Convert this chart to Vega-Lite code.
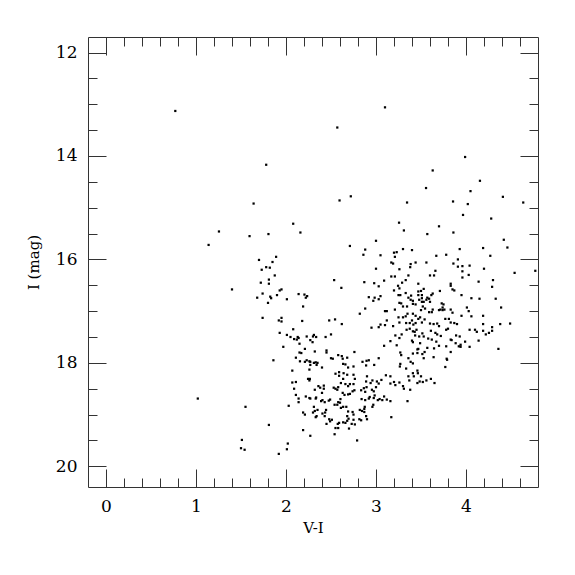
{
"$schema":"https://vega.github.io/schema/vega-lite/v6.json",
"width":450,"height":450,
"autosize":"none",
"padding":{"left":88,"top":37,"right":37,"bottom":88},
"background":"white",
"config":{"view":{"stroke":null},"font":"DejaVu Serif",
 "axis":{"grid":false,"domainColor":"#333","domainWidth":1,"tickColor":"#333","tickWidth":1,"labelColor":"black","titleColor":"black","labelFont":"DejaVu Serif","titleFont":"DejaVu Serif","labelFontSize":17,"titleFontSize":15,"titleFontWeight":"normal","labelFlush":false,"labelOverlap":false,"labelBound":false}},
"data":{"values":[
{"vi":0.77,"mag":13.13},{"vi":3.10,"mag":13.06},{"vi":2.57,"mag":13.45},{"vi":3.99,"mag":14.02},{"vi":3.63,"mag":14.28},{"vi":4.155,"mag":14.48},{"vi":3.556,"mag":14.62},{"vi":4.05,"mag":14.68},{"vi":4.41,"mag":14.79},{"vi":3.345,"mag":14.90},{"vi":3.856,"mag":14.88},{"vi":4.02,"mag":14.93},{"vi":4.636,"mag":14.90},{"vi":3.967,"mag":15.14},{"vi":4.28,"mag":15.21},{"vi":1.78,"mag":14.17},{"vi":1.64,"mag":14.92},{"vi":2.595,"mag":14.86},{"vi":2.72,"mag":14.78},{"vi":1.255,"mag":15.46},{"vi":1.14,"mag":15.72},{"vi":1.02,"mag":18.69},
{"vi":2.08,"mag":15.31},{"vi":1.595,"mag":15.55},{"vi":1.805,"mag":15.51},{"vi":2.16,"mag":15.48},{"vi":1.70,"mag":16.01},{"vi":1.73,"mag":16.20},{"vi":1.78,"mag":16.15},{"vi":1.82,"mag":16.16},{"vi":1.85,"mag":16.05},{"vi":1.89,"mag":15.95},{"vi":1.875,"mag":16.31},{"vi":1.81,"mag":16.39},{"vi":1.81,"mag":16.47},{"vi":1.72,"mag":16.45},{"vi":1.74,"mag":16.66},{"vi":1.68,"mag":16.74},{"vi":1.40,"mag":16.58},{"vi":1.825,"mag":16.72},{"vi":1.835,"mag":16.75},{"vi":1.90,"mag":16.69},{"vi":1.93,"mag":16.60},{"vi":1.95,"mag":16.58},{"vi":2.01,"mag":16.77},{"vi":2.14,"mag":16.67},{"vi":2.205,"mag":16.68},{"vi":2.22,"mag":16.74},{"vi":2.235,"mag":16.71},{"vi":2.535,"mag":16.40},
{"vi":2.71,"mag":15.74},{"vi":2.88,"mag":15.81},{"vi":2.86,"mag":15.91},{"vi":3.00,"mag":15.64},{"vi":3.00,"mag":16.18},{"vi":2.615,"mag":16.55},{"vi":2.87,"mag":16.44},{"vi":2.98,"mag":16.46},{"vi":3.03,"mag":16.52},{"vi":2.92,"mag":16.73},{"vi":2.97,"mag":16.80},{"vi":2.985,"mag":16.74},{"vi":3.03,"mag":16.77},{"vi":2.88,"mag":16.95},{"vi":2.82,"mag":17.05},{"vi":2.62,"mag":17.25},{"vi":2.95,"mag":17.32},{"vi":3.03,"mag":17.31},
{"vi":3.256,"mag":15.29},{"vi":3.70,"mag":15.36},{"vi":3.31,"mag":15.44},{"vi":3.86,"mag":15.48},{"vi":3.57,"mag":15.51},{"vi":4.42,"mag":15.62},{"vi":4.46,"mag":15.77},{"vi":4.19,"mag":15.78},{"vi":3.93,"mag":15.80},{"vi":3.30,"mag":15.80},{"vi":3.40,"mag":15.82},{"vi":3.23,"mag":15.86},{"vi":3.20,"mag":15.87},{"vi":3.21,"mag":15.95},{"vi":3.05,"mag":15.92},{"vi":3.67,"mag":15.93},{"vi":3.78,"mag":15.91},{"vi":4.27,"mag":15.93},{"vi":3.91,"mag":16.00},{"vi":3.17,"mag":16.06},{"vi":3.19,"mag":16.08},{"vi":3.56,"mag":16.06},{"vi":3.44,"mag":16.06},{"vi":3.385,"mag":16.09},{"vi":3.38,"mag":16.15},{"vi":3.86,"mag":16.08},{"vi":3.96,"mag":16.13},{"vi":3.91,"mag":16.14},{"vi":4.04,"mag":16.12},{"vi":4.20,"mag":16.18},{"vi":3.26,"mag":16.19},{"vi":4.54,"mag":16.26},{"vi":4.77,"mag":16.22},{"vi":3.66,"mag":16.22},{"vi":3.645,"mag":16.31},{"vi":3.60,"mag":16.31},{"vi":3.36,"mag":16.31},{"vi":3.21,"mag":16.33},{"vi":3.17,"mag":16.33},{"vi":3.96,"mag":16.23},{"vi":4.03,"mag":16.30},{"vi":3.96,"mag":16.35},{"vi":4.30,"mag":16.40},{"vi":4.14,"mag":16.43},{"vi":3.09,"mag":16.41},{"vi":3.33,"mag":16.40},{"vi":3.29,"mag":16.45},{"vi":3.47,"mag":16.47},{"vi":3.83,"mag":16.47},{"vi":3.83,"mag":16.51},{"vi":3.85,"mag":16.58},{"vi":3.87,"mag":16.60},{"vi":4.29,"mag":16.53},{"vi":3.245,"mag":16.51},{"vi":3.26,"mag":16.56},{"vi":3.05,"mag":16.71},{"vi":3.20,"mag":16.60},{"vi":3.53,"mag":16.57},{"vi":3.50,"mag":16.61},{"vi":3.47,"mag":16.62},{"vi":3.71,"mag":16.61},{"vi":3.25,"mag":16.69},{"vi":3.27,"mag":16.69},{"vi":3.33,"mag":16.65},{"vi":3.39,"mag":16.70},{"vi":3.51,"mag":16.69},{"vi":3.47,"mag":16.69},{"vi":3.63,"mag":16.66},{"vi":3.615,"mag":16.69},{"vi":3.95,"mag":16.69},{"vi":4.15,"mag":16.76},{"vi":4.06,"mag":16.75},{"vi":4.33,"mag":16.76},{"vi":3.36,"mag":16.74},{"vi":3.385,"mag":16.78},{"vi":3.41,"mag":16.80},{"vi":3.57,"mag":16.74},{"vi":3.59,"mag":16.76},{"vi":3.56,"mag":16.78},{"vi":3.60,"mag":16.82},{"vi":3.48,"mag":16.78},{"vi":3.51,"mag":16.75},{"vi":3.51,"mag":16.82},{"vi":3.53,"mag":16.82},{"vi":3.41,"mag":16.86},{"vi":3.44,"mag":16.87},{"vi":3.26,"mag":16.84},{"vi":3.28,"mag":16.85},{"vi":3.73,"mag":16.85},{"vi":3.75,"mag":16.87},{"vi":3.74,"mag":16.93},{"vi":3.76,"mag":16.97},{"vi":3.74,"mag":16.98},{"vi":3.70,"mag":16.98},{"vi":3.715,"mag":16.97},{"vi":4.01,"mag":16.93},{"vi":4.03,"mag":17.00},{"vi":4.39,"mag":16.93},{"vi":3.10,"mag":17.00},{"vi":3.12,"mag":17.00},{"vi":3.21,"mag":16.97},{"vi":3.345,"mag":16.91},{"vi":3.30,"mag":16.91},{"vi":3.52,"mag":16.91},{"vi":3.545,"mag":16.95},{"vi":3.50,"mag":16.98},{"vi":3.63,"mag":16.97},{"vi":3.62,"mag":17.02},{"vi":3.59,"mag":17.02},{"vi":3.83,"mag":16.97},{"vi":3.85,"mag":17.03},{"vi":3.95,"mag":17.09},{"vi":4.06,"mag":17.10},{"vi":4.19,"mag":17.09},{"vi":3.05,"mag":17.26},{"vi":3.10,"mag":17.27},{"vi":3.12,"mag":17.18},{"vi":3.19,"mag":17.29},{"vi":3.25,"mag":17.12},{"vi":3.26,"mag":17.22},{"vi":3.30,"mag":17.12},{"vi":3.33,"mag":17.10},{"vi":3.35,"mag":17.05},{"vi":3.41,"mag":17.05},{"vi":3.44,"mag":17.09},{"vi":3.47,"mag":17.15},{"vi":3.49,"mag":17.12},{"vi":3.40,"mag":17.18},{"vi":3.44,"mag":17.23},{"vi":3.415,"mag":17.26},{"vi":3.51,"mag":17.22},{"vi":3.54,"mag":17.16},{"vi":3.375,"mag":17.23},{"vi":3.335,"mag":17.23},{"vi":3.64,"mag":17.25},{"vi":3.68,"mag":17.24},{"vi":3.70,"mag":17.29},{"vi":3.60,"mag":17.24},{"vi":3.77,"mag":17.15},{"vi":3.81,"mag":17.15},{"vi":3.83,"mag":17.22},{"vi":3.87,"mag":17.23},{"vi":3.90,"mag":17.25},{"vi":4.04,"mag":17.36},{"vi":4.10,"mag":17.36},{"vi":4.12,"mag":17.40},{"vi":4.19,"mag":17.25},{"vi":4.19,"mag":17.38},{"vi":4.29,"mag":17.31},{"vi":4.29,"mag":17.38},{"vi":4.22,"mag":17.45},{"vi":4.255,"mag":17.42},{"vi":4.38,"mag":17.25},{"vi":4.49,"mag":17.24},{"vi":3.09,"mag":17.67},{"vi":3.23,"mag":17.66},{"vi":3.215,"mag":17.47},{"vi":3.285,"mag":17.45},{"vi":3.34,"mag":17.36},{"vi":3.375,"mag":17.34},{"vi":3.41,"mag":17.39},{"vi":3.45,"mag":17.36},{"vi":3.43,"mag":17.40},{"vi":3.435,"mag":17.47},{"vi":3.40,"mag":17.57},{"vi":3.41,"mag":17.60},{"vi":3.48,"mag":17.49},{"vi":3.515,"mag":17.43},{"vi":3.53,"mag":17.49},{"vi":3.49,"mag":17.62},{"vi":3.61,"mag":17.38},{"vi":3.66,"mag":17.42},{"vi":3.68,"mag":17.45},{"vi":3.72,"mag":17.48},{"vi":3.58,"mag":17.53},{"vi":3.62,"mag":17.55},{"vi":3.67,"mag":17.59},{"vi":3.70,"mag":17.67},{"vi":3.78,"mag":17.36},{"vi":3.80,"mag":17.34},{"vi":3.83,"mag":17.55},{"vi":3.84,"mag":17.56},{"vi":3.885,"mag":17.62},{"vi":3.92,"mag":17.68},{"vi":3.94,"mag":17.69},{"vi":3.99,"mag":17.59},{"vi":3.78,"mag":17.68},{"vi":3.83,"mag":17.79},{"vi":3.785,"mag":17.92},{"vi":3.79,"mag":17.94},{"vi":3.77,"mag":18.08},{"vi":3.89,"mag":17.47},{"vi":3.93,"mag":17.49},{"vi":3.94,"mag":17.65},{"vi":4.04,"mag":17.69},{"vi":4.14,"mag":17.57},{"vi":4.36,"mag":17.73},{"vi":3.57,"mag":17.71},{"vi":3.54,"mag":17.79},{"vi":3.515,"mag":17.83},{"vi":3.53,"mag":17.91},{"vi":3.46,"mag":17.74},{"vi":3.46,"mag":17.81},{"vi":3.41,"mag":17.82},{"vi":3.47,"mag":17.73},{"vi":3.645,"mag":17.72},{"vi":3.64,"mag":17.89},{"vi":3.27,"mag":17.80},{"vi":3.28,"mag":17.85},{"vi":3.36,"mag":17.91},{"vi":3.385,"mag":17.98},{"vi":3.27,"mag":18.02},{"vi":3.265,"mag":18.07},{"vi":3.335,"mag":18.11},{"vi":3.41,"mag":18.01},{"vi":3.16,"mag":17.58},{"vi":3.26,"mag":17.52},
{"vi":1.80,"mag":16.84},{"vi":2.19,"mag":16.91},{"vi":1.74,"mag":17.13},{"vi":1.92,"mag":17.18},{"vi":1.95,"mag":17.13},{"vi":1.95,"mag":17.20},{"vi":2.18,"mag":17.19},{"vi":2.48,"mag":17.18},{"vi":2.545,"mag":17.16},{"vi":2.08,"mag":17.35},{"vi":1.93,"mag":17.42},{"vi":2.01,"mag":17.46},{"vi":2.05,"mag":17.50},{"vi":2.09,"mag":17.54},{"vi":2.13,"mag":17.50},{"vi":2.14,"mag":17.52},{"vi":2.12,"mag":17.55},{"vi":2.15,"mag":17.63},{"vi":2.23,"mag":17.49},{"vi":2.27,"mag":17.56},{"vi":2.30,"mag":17.49},{"vi":2.31,"mag":17.46},{"vi":2.295,"mag":17.60},{"vi":2.335,"mag":17.50},{"vi":2.44,"mag":17.50},{"vi":2.50,"mag":17.45},{"vi":1.97,"mag":17.69},{"vi":2.15,"mag":17.80},{"vi":2.17,"mag":17.81},{"vi":2.21,"mag":17.73},{"vi":2.32,"mag":17.78},{"vi":2.45,"mag":17.76},{"vi":2.45,"mag":17.80},{"vi":2.50,"mag":17.91},{"vi":2.52,"mag":17.92},{"vi":2.58,"mag":17.85},{"vi":1.86,"mag":17.95},{"vi":2.11,"mag":17.90},{"vi":2.155,"mag":17.97},{"vi":2.21,"mag":17.98},{"vi":2.23,"mag":17.95},{"vi":2.26,"mag":17.97},{"vi":2.27,"mag":17.98},{"vi":2.27,"mag":18.04},{"vi":2.31,"mag":18.00},{"vi":2.33,"mag":17.99},{"vi":2.35,"mag":18.00},{"vi":2.34,"mag":18.04},{"vi":2.40,"mag":18.09},{"vi":2.55,"mag":18.21},{"vi":2.59,"mag":18.18},{"vi":2.59,"mag":18.25},{"vi":2.07,"mag":18.15},{"vi":2.26,"mag":18.13},{"vi":2.07,"mag":18.38},{"vi":2.11,"mag":18.37},{"vi":2.09,"mag":18.50},{"vi":2.245,"mag":18.31},{"vi":2.265,"mag":18.31},{"vi":2.26,"mag":18.34},{"vi":2.36,"mag":18.45},{"vi":2.38,"mag":18.48},{"vi":2.42,"mag":18.44},{"vi":2.42,"mag":18.50},{"vi":2.40,"mag":18.58},{"vi":2.53,"mag":18.48},{"vi":2.55,"mag":18.50},{"vi":2.57,"mag":18.52},{"vi":2.58,"mag":18.47},{"vi":2.32,"mag":18.52},{"vi":2.11,"mag":18.62},{"vi":2.14,"mag":18.69},{"vi":2.14,"mag":18.76},{"vi":2.22,"mag":18.65},{"vi":2.26,"mag":18.68},{"vi":2.27,"mag":18.69},{"vi":2.335,"mag":18.67},{"vi":2.33,"mag":18.69},{"vi":2.39,"mag":18.74},{"vi":2.405,"mag":18.72},{"vi":2.43,"mag":18.76},{"vi":2.475,"mag":18.73},{"vi":2.49,"mag":18.71},{"vi":2.54,"mag":18.81},{"vi":2.58,"mag":18.76},{"vi":2.57,"mag":18.81},{"vi":2.60,"mag":18.77},{"vi":1.55,"mag":18.85},{"vi":2.03,"mag":18.83},{"vi":2.19,"mag":18.96},{"vi":2.21,"mag":19.00},{"vi":2.31,"mag":18.85},{"vi":2.30,"mag":18.96},{"vi":2.32,"mag":18.93},{"vi":2.35,"mag":18.91},{"vi":2.34,"mag":19.03},{"vi":2.33,"mag":19.05},{"vi":2.405,"mag":18.98},{"vi":2.435,"mag":18.96},{"vi":2.445,"mag":18.91},{"vi":2.43,"mag":19.03},{"vi":2.49,"mag":19.13},{"vi":2.51,"mag":19.10},{"vi":2.45,"mag":19.18},{"vi":2.48,"mag":19.09},{"vi":2.575,"mag":19.18},{"vi":2.59,"mag":19.16},{"vi":2.58,"mag":19.26},{"vi":2.55,"mag":19.26},{"vi":1.81,"mag":19.20},{"vi":2.19,"mag":19.30},{"vi":2.27,"mag":19.41},{"vi":2.54,"mag":19.38},{"vi":1.51,"mag":19.49},{"vi":2.02,"mag":19.56},{"vi":1.50,"mag":19.65},{"vi":1.54,"mag":19.68},{"vi":2.01,"mag":19.67},{"vi":1.92,"mag":19.76},
{"vi":2.76,"mag":17.79},{"vi":2.62,"mag":17.87},{"vi":2.63,"mag":17.92},{"vi":2.68,"mag":17.90},{"vi":2.635,"mag":18.02},{"vi":2.66,"mag":18.03},{"vi":2.69,"mag":18.09},{"vi":2.75,"mag":18.07},{"vi":2.85,"mag":17.98},{"vi":2.895,"mag":17.96},{"vi":2.92,"mag":17.95},{"vi":2.89,"mag":18.05},{"vi":2.98,"mag":18.04},{"vi":3.03,"mag":17.91},{"vi":2.64,"mag":18.20},{"vi":2.68,"mag":18.23},{"vi":2.635,"mag":18.31},{"vi":2.75,"mag":18.23},{"vi":2.765,"mag":18.31},{"vi":2.61,"mag":18.39},{"vi":2.66,"mag":18.41},{"vi":2.69,"mag":18.45},{"vi":2.71,"mag":18.41},{"vi":2.75,"mag":18.41},{"vi":2.76,"mag":18.53},{"vi":2.74,"mag":18.55},{"vi":2.63,"mag":18.58},{"vi":2.65,"mag":18.62},{"vi":2.69,"mag":18.61},{"vi":2.71,"mag":18.60},{"vi":2.605,"mag":18.70},{"vi":2.635,"mag":18.85},{"vi":2.67,"mag":18.85},{"vi":2.61,"mag":18.87},{"vi":2.69,"mag":18.94},{"vi":2.68,"mag":19.03},{"vi":2.635,"mag":19.15},{"vi":2.66,"mag":19.16},{"vi":2.68,"mag":19.12},{"vi":2.695,"mag":19.08},{"vi":2.74,"mag":18.95},{"vi":2.75,"mag":19.00},{"vi":2.75,"mag":19.10},{"vi":2.765,"mag":19.19},{"vi":2.70,"mag":19.27},{"vi":2.73,"mag":19.18},{"vi":2.79,"mag":19.50},{"vi":2.815,"mag":19.09},{"vi":2.835,"mag":19.11},{"vi":2.82,"mag":18.91},{"vi":2.845,"mag":18.93},{"vi":2.87,"mag":18.89},{"vi":2.875,"mag":18.85},{"vi":2.87,"mag":18.95},{"vi":2.90,"mag":19.09},{"vi":2.89,"mag":19.03},{"vi":2.84,"mag":18.70},{"vi":2.88,"mag":18.72},{"vi":2.92,"mag":18.69},{"vi":2.93,"mag":18.66},{"vi":2.975,"mag":18.68},{"vi":2.865,"mag":18.49},{"vi":2.835,"mag":18.53},{"vi":2.895,"mag":18.47},{"vi":2.88,"mag":18.56},{"vi":2.975,"mag":18.55},{"vi":2.955,"mag":18.52},{"vi":3.00,"mag":18.47},{"vi":3.03,"mag":18.40},{"vi":2.97,"mag":18.81},{"vi":2.96,"mag":18.85},{"vi":3.02,"mag":18.72},{"vi":3.04,"mag":18.70},{"vi":2.985,"mag":18.63},{"vi":2.90,"mag":18.26},{"vi":2.89,"mag":18.36},{"vi":2.94,"mag":18.39},{"vi":2.96,"mag":18.34},{"vi":3.01,"mag":18.36},{"vi":3.11,"mag":18.24},{"vi":3.16,"mag":18.26},{"vi":3.20,"mag":18.37},{"vi":3.16,"mag":18.40},{"vi":3.215,"mag":18.43},{"vi":3.06,"mag":18.33},{"vi":3.09,"mag":18.65},{"vi":3.12,"mag":18.71},{"vi":3.07,"mag":18.72},{"vi":3.16,"mag":18.74},{"vi":3.17,"mag":19.05},{"vi":3.26,"mag":18.38},{"vi":3.30,"mag":18.45},{"vi":3.31,"mag":18.50},{"vi":3.38,"mag":18.52},{"vi":3.35,"mag":18.74},{"vi":3.36,"mag":18.26},{"vi":3.37,"mag":18.34},{"vi":3.46,"mag":18.15},{"vi":3.465,"mag":18.20},{"vi":3.485,"mag":18.36},{"vi":3.52,"mag":18.37},{"vi":3.46,"mag":18.39},{"vi":3.50,"mag":18.26},{"vi":3.56,"mag":18.34},{"vi":3.61,"mag":18.31},{"vi":3.65,"mag":18.39},{"vi":3.42,"mag":18.26},{"vi":3.41,"mag":18.20}
]},
"layer":[
 {"mark":{"type":"square","size":5,"color":"black","opacity":1},
  "encoding":{
   "x":{"field":"vi","type":"quantitative","scale":{"domain":[-0.2,4.8],"nice":false,"zero":false},
    "axis":{"orient":"bottom","title":"V-I","values":[0,0.2,0.4,0.6,0.8,1,1.2,1.4,1.6,1.8,2,2.2,2.4,2.6,2.8,3,3.2,3.4,3.6,3.8,4,4.2,4.4,4.6],
     "labelExpr":"datum.value % 1 === 0 ? format(datum.value, 'd') : ''",
     "labelFont":"DejaVu Serif","labelFontSize":17,"titleFont":"DejaVu Serif",
     "tickSize":{"condition":{"test":"datum.value % 1 === 0","value":-18},"value":-9},
     "labelPadding":29,"titlePadding":-3}},
   "y":{"field":"mag","type":"quantitative","scale":{"domain":[11.7,20.4],"nice":false,"zero":false,"reverse":true},
    "axis":{"orient":"left","title":"I (mag)","values":[12,12.5,13,13.5,14,14.5,15,15.5,16,16.5,17,17.5,18,18.5,19,19.5,20],
     "labelExpr":"datum.value % 2 === 0 ? format(datum.value, 'd') : ''",
     "labelFont":"DejaVu Serif","labelFontSize":17,"titleFont":"DejaVu Serif",
     "tickSize":{"condition":{"test":"datum.value % 2 === 0","value":-18},"value":-9},
     "labelPadding":29,"titlePadding":14}}
  }},
 {"mark":{"type":"square","size":5,"opacity":0},
  "encoding":{
   "x":{"field":"vi","type":"quantitative",
    "axis":{"orient":"top","title":null,"labels":false,"values":[0,0.2,0.4,0.6,0.8,1,1.2,1.4,1.6,1.8,2,2.2,2.4,2.6,2.8,3,3.2,3.4,3.6,3.8,4,4.2,4.4,4.6],
     "tickSize":{"condition":{"test":"datum.value % 1 === 0","value":-18},"value":-9}}},
   "y":{"field":"mag","type":"quantitative",
    "axis":{"orient":"right","title":null,"labels":false,"values":[12,12.5,13,13.5,14,14.5,15,15.5,16,16.5,17,17.5,18,18.5,19,19.5,20],
     "tickSize":{"condition":{"test":"datum.value % 2 === 0","value":-18},"value":-9}}}
  }}
],
"resolve":{"axis":{"x":"independent","y":"independent"}}
}
